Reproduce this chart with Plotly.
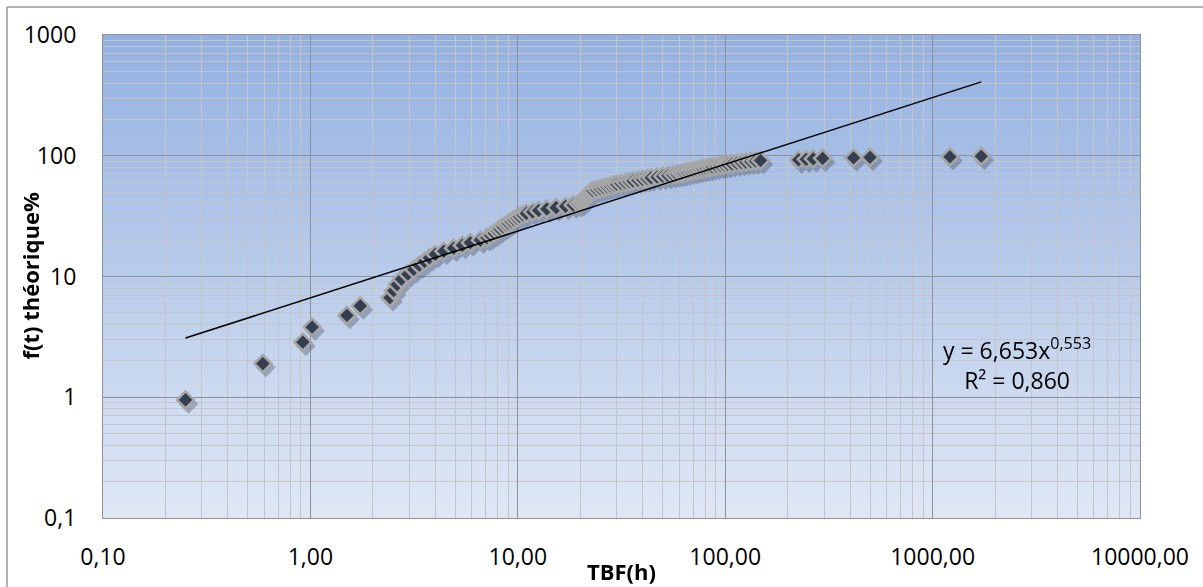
import plotly.graph_objects as go

# Time between failures (hours), sorted ascending
tbf_h = [
    0.25, 0.59, 0.92, 1.02, 1.50, 1.74, 2.42, 2.52, 2.62, 2.75,
    2.95, 3.15, 3.35, 3.55, 3.75, 4.00, 4.40, 4.90, 5.40, 5.90,
    6.60, 7.10, 7.40, 7.70, 8.00, 8.20, 8.50, 8.80, 9.00, 9.30,
    9.60, 9.90, 10.20, 10.60, 11.00, 11.80, 12.60, 13.80, 15.30, 17.00,
    18.50, 19.60, 20.10, 20.40, 20.70, 21.00, 21.30, 21.50, 21.70, 21.90,
    22.10, 22.30, 22.60, 23.00, 24.00, 25.00, 26.00, 27.00, 28.00, 29.00,
    30.00, 31.50, 33.00, 34.50, 36.00, 38.00, 40.00, 42.00, 44.00, 47.00,
    50.00, 53.00, 56.00, 58.50, 61.00, 63.00, 65.50, 68.00, 70.50, 73.00,
    75.50, 78.00, 81.00, 84.00, 87.00, 91.00, 95.00, 99.00, 103.0, 108.0,
    114.0, 120.0, 126.0, 133.0, 140.0, 148.0, 226.0, 246.0, 266.0, 295.0,
    416.0, 499.0, 1213.0, 1717.0,
]

# Theoretical cumulative failure f(t), percent
f_theo = [
    0.95, 1.90, 2.86, 3.81, 4.76, 5.71, 6.67, 7.62, 8.57, 9.52,
    10.48, 11.43, 12.38, 13.33, 14.29, 15.24, 16.19, 17.14, 18.10, 19.05,
    20.00, 20.95, 21.90, 22.86, 23.81, 24.76, 25.71, 26.67, 27.62, 28.57,
    29.52, 30.48, 31.43, 32.38, 33.33, 34.29, 35.24, 36.19, 37.14, 38.10,
    39.05, 40.00, 40.95, 41.90, 42.86, 43.81, 44.76, 45.71, 46.67, 47.62,
    48.57, 49.52, 50.48, 51.43, 52.38, 53.33, 54.29, 55.24, 56.19, 57.14,
    58.10, 59.05, 60.00, 60.95, 61.90, 62.86, 63.81, 64.76, 65.71, 66.67,
    67.62, 68.57, 69.52, 70.48, 71.43, 72.38, 73.33, 74.29, 75.24, 76.19,
    77.14, 78.10, 79.05, 80.00, 80.95, 81.90, 82.86, 83.81, 84.76, 85.71,
    86.67, 87.62, 88.57, 89.52, 90.48, 91.43, 92.38, 93.33, 94.29, 95.24,
    96.19, 97.14, 98.10, 99.05,
]

# Power trendline y = a * x^b
fit_a = 6.653
fit_b = 0.553
fit_r2 = 0.860

x_tick_vals = [0.1, 1, 10, 100, 1000, 10000]
x_tick_text = ["0,10", "1,00", "10,00", "100,00", "1000,00", "10000,00"]
y_tick_vals = [0.1, 1, 10, 100, 1000]
y_tick_text = ["0,1", "1", "10", "100", "1000"]

FONT = "Open Sans"
W, H = 1203, 587
L, R, T, B = 103, 63, 35, 69
plot_w = W - L - R
plot_h = H - T - B

fig = go.Figure()

# soft drop shadow under the markers, shifted a few pixels down-right
dx_px, dy_px = 3, 4
sx = 10 ** (dx_px * 5 / plot_w)
sy = 10 ** (-dy_px * 4 / plot_h)
fig.add_trace(go.Scatter(
    x=[v * sx for v in tbf_h], y=[v * sy for v in f_theo],
    mode="markers", hoverinfo="skip", opacity=0.3,
    marker=dict(symbol="diamond", size=15, color="#2a3140", line=dict(width=0)),
))

fig.add_trace(go.Scatter(
    x=tbf_h, y=f_theo, mode="markers",
    marker=dict(symbol="diamond", size=13, color="#333f50",
                line=dict(color="#a6a6a6", width=2.5)),
))

x_lo, x_hi = min(tbf_h), max(tbf_h)
fig.add_trace(go.Scatter(
    x=[x_lo, x_hi], y=[fit_a * x_lo ** fit_b, fit_a * x_hi ** fit_b],
    mode="lines", line=dict(color="black", width=1.5), hoverinfo="skip",
))

# vertical gradient for the plotting area
top_c = (147, 177, 225)
bot_c = (223, 231, 244)
n_bands = 80
shapes = []
for k in range(n_bands):
    t = k / (n_bands - 1)
    c = tuple(round(top_c[j] + (bot_c[j] - top_c[j]) * t) for j in range(3))
    y1 = 1 - k / n_bands
    y0 = 1 - (k + 1) / n_bands
    shapes.append(dict(type="rect", xref="x domain", yref="y domain",
                       x0=0, x1=1, y0=y0 - 0.002, y1=y1, layer="below",
                       line=dict(width=0), fillcolor="rgb(%d,%d,%d)" % c))

# outer chart frame (top and left edges)
fx0 = (7 - L) / plot_w
fy1 = (H - B - 7) / plot_h
shapes.append(dict(type="line", xref="paper", yref="paper", x0=fx0, x1=1.2,
                   y0=fy1, y1=fy1, line=dict(color="#9a9a9a", width=1.5)))
shapes.append(dict(type="line", xref="paper", yref="paper", x0=fx0, x1=fx0,
                   y0=-0.3, y1=fy1, line=dict(color="#9a9a9a", width=1.5)))


def minor_vals(lo, hi):
    out = []
    for d in range(lo, hi):
        for k in range(2, 10):
            out.append(k * 10 ** d)
    return out


axis_common = dict(
    type="log", showgrid=True, gridcolor="#8e929a", gridwidth=1.2,
    showline=True, linecolor="#8e929a", linewidth=1.2, mirror=True,
    zeroline=False, ticks="", automargin=False,
    tickfont=dict(family=FONT, size=23, color="#000"),
)

fig.update_xaxes(
    range=[-1, 4], tickmode="array", tickvals=x_tick_vals, ticktext=x_tick_text,
    ticklabelstandoff=18,
    minor=dict(tickmode="array", tickvals=minor_vals(-1, 4), showgrid=True,
               gridcolor="#c3c5c9", gridwidth=1.2, ticks=""),
    **axis_common,
)
fig.update_yaxes(
    range=[-1, 3], tickmode="array", tickvals=y_tick_vals, ticktext=y_tick_text,
    ticklabelstandoff=21,
    minor=dict(tickmode="array", tickvals=minor_vals(-1, 3), showgrid=True,
               gridcolor="#c3c5c9", gridwidth=1.2, ticks=""),
    **axis_common,
)

annotations = [
    dict(text="<b>TBF(h)</b>", xref="paper", yref="paper", x=0.5,
         y=(H - B - 571) / plot_h, xanchor="center", yanchor="middle",
         showarrow=False, font=dict(family=FONT, size=22, color="#000")),
    dict(text="<b>f(t) théorique%</b>", xref="paper", yref="paper",
         x=(29 - L) / plot_w, y=0.5, xanchor="center", yanchor="middle",
         textangle=-90, showarrow=False,
         font=dict(family=FONT, size=22, color="#000")),
    dict(text="y = %sx<sup>%s</sup><br>R² = %s" % (
        f"{fit_a:.3f}".replace(".", ","), f"{fit_b:.3f}".replace(".", ","),
        f"{fit_r2:.3f}".replace(".", ",")),
         xref="paper", yref="paper",
         x=(1017 - L) / plot_w, y=(H - B - 364) / plot_h,
         xanchor="center", yanchor="middle", align="center", showarrow=False,
         font=dict(family=FONT, size=23, color="#000")),
]

fig.update_layout(
    width=W, height=H, margin=dict(l=L, r=R, t=T, b=B),
    paper_bgcolor="white", plot_bgcolor=f"rgb{bot_c}",
    showlegend=False, shapes=shapes, annotations=annotations,
    font=dict(family=FONT),
)

fig.write_html("out.html")
